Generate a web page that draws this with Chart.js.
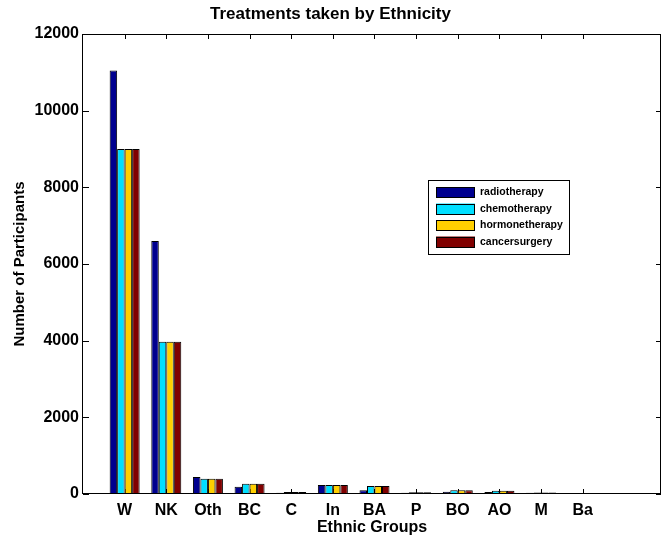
<!DOCTYPE html>
<html>
<head>
<meta charset="utf-8">
<script src="https://cdn.jsdelivr.net/npm/chart.js@4/dist/chart.umd.min.js"></script>
<style>
  html, body { margin: 0; padding: 0; background: #fff; }
  #wrap { width: 662px; height: 537px; }
</style>
</head>
<body>
<div id="wrap"><canvas id="c" width="662" height="537"></canvas></div>
<script>
// Treatments taken by Ethnicity - grouped bars, matlab style
var groups = ["W", "NK", "Oth", "BC", "C", "In", "BA", "P", "BO", "AO", "M", "Ba"];
var treatments = ["radiotherapy", "chemotherapy", "hormonetherapy", "cancersurgery"];
var radiotherapy = [11050, 6600, 443, 190, 35, 235, 95, 35, 60, 50, 35, 15];
var chemotherapy = [9000, 3970, 400, 270, 55, 235, 210, 45, 95, 85, 40, 15];
var hormonetherapy = [9000, 3970, 400, 270, 50, 235, 210, 45, 95, 85, 40, 15];
var cancersurgery = [9000, 3970, 400, 270, 55, 235, 210, 45, 95, 85, 40, 15];
var colors = ["#00008F", "#00DFFF", "#FFCF00", "#800000"];
var yTicks = [0, 2000, 4000, 6000, 8000, 10000, 12000];

var FONT = "'Liberation Sans', Arial, Helvetica, sans-serif";

var series = [radiotherapy, chemotherapy, hormonetherapy, cancersurgery];
var datasets = series.map(function (vals, k) {
    return {
        label: treatments[k],
        data: vals.map(function (v, i) { return { x: i + 1, y: v }; }),
        backgroundColor: colors[k],
        borderColor: "#000",
        borderWidth: 1,
        categoryPercentage: 0.72,
        barPercentage: 1
    };
});

// box + inward ticks on all four sides
var frame = {
    id: "frame",
    beforeDatasetsDraw: function (chart) {
        var ctx = chart.ctx, a = chart.chartArea;
        var x = chart.scales.x, y = chart.scales.y;
        ctx.save();
        ctx.strokeStyle = "#000";
        ctx.lineWidth = 1;
        ctx.beginPath();
        x.ticks.forEach(function (t) {
            var px = Math.round(x.getPixelForValue(t.value)) + 0.5;
            ctx.moveTo(px, a.top); ctx.lineTo(px, a.top + 5);
            ctx.moveTo(px, a.bottom); ctx.lineTo(px, a.bottom - 5);
        });
        y.ticks.forEach(function (t) {
            var py = Math.round(y.getPixelForValue(t.value)) + 0.5;
            ctx.moveTo(a.left, py); ctx.lineTo(a.left + 6, py);
            ctx.moveTo(a.right, py); ctx.lineTo(a.right - 5, py);
        });
        ctx.stroke();
        ctx.restore();
    },
    afterDatasetsDraw: function (chart) {
        var ctx = chart.ctx, a = chart.chartArea;
        ctx.save();
        ctx.strokeStyle = "#000";
        ctx.lineWidth = 1;
        ctx.strokeRect(Math.round(a.left) - 0.5, Math.round(a.top) + 0.5,
            Math.round(a.right - a.left), Math.round(a.bottom - a.top) - 1);
        ctx.restore();
    },
    afterDraw: function (chart) {
        // legend box inside the axes
        var ctx = chart.ctx;
        var bx = 428.5, by = 180.5, bw = 141, bh = 74;
        ctx.save();
        ctx.fillStyle = "#fff";
        ctx.fillRect(bx, by, bw, bh);
        ctx.strokeStyle = "#000";
        ctx.lineWidth = 1;
        ctx.strokeRect(bx, by, bw, bh);
        ctx.font = "bold 10.5px " + FONT;
        ctx.textBaseline = "middle";
        ctx.textAlign = "left";
        chart.data.datasets.forEach(function (ds, k) {
            var sy = 187 + k * 16.5;
            ctx.fillStyle = ds.backgroundColor;
            ctx.fillRect(436, sy, 39, 10.5);
            ctx.strokeStyle = "#000";
            ctx.strokeRect(436.5, Math.round(sy) + 0.5, 38, 10);
            ctx.fillStyle = "#000";
            ctx.fillText(ds.label, 480, sy + 5.5);
        });
        ctx.restore();
    }
};

new Chart(document.getElementById("c").getContext("2d"), {
    type: "bar",
    data: { datasets: datasets },
    options: {
        responsive: false,
        animation: false,
        layout: { padding: { left: 0, right: 1, top: 0, bottom: 0 } },
        plugins: {
            legend: { display: false },
            tooltip: { enabled: false },
            title: {
                display: true,
                text: "Treatments taken by Ethnicity",
                color: "#000",
                font: { family: FONT, size: 17, weight: "bold", lineHeight: 1.2 },
                padding: { top: 4, bottom: 9.6 }
            }
        },
        scales: {
            x: {
                type: "linear",
                min: 0,
                max: 13.88,
                offset: false,
                grid: { display: false, drawTicks: false },
                border: { display: false },
                afterBuildTicks: function (s) {
                    s.ticks = groups.map(function (g, i) { return { value: i + 1 }; });
                },
                afterFit: function (s) { s.height = 43; },
                ticks: {
                    autoSkip: false,
                    maxRotation: 0,
                    padding: 7,
                    color: "#000",
                    font: { family: FONT, size: 16, weight: "bold" },
                    callback: function (v) { return groups[v - 1] || ""; }
                },
                title: {
                    display: true,
                    text: "Ethnic Groups",
                    color: "#000",
                    font: { family: FONT, size: 16, weight: "bold", lineHeight: 1.2 },
                    padding: { top: 0, bottom: 0 }
                }
            },
            y: {
                min: 0,
                max: 12000,
                grid: { display: false, drawTicks: false },
                border: { display: false },
                afterBuildTicks: function (s) {
                    s.ticks = yTicks.map(function (v) { return { value: v }; });
                },
                afterFit: function (s) { s.width = 83; },
                ticks: {
                    padding: 4,
                    color: "#000",
                    font: { family: FONT, size: 16, weight: "bold" },
                    callback: function (v) { return String(v); }
                },
                title: {
                    display: true,
                    text: "Number of Participants",
                    color: "#000",
                    font: { family: FONT, size: 15, weight: "bold", lineHeight: 1.2 },
                    padding: { top: 11, bottom: 0 }
                }
            }
        }
    },
    plugins: [frame]
});
</script>
</body>
</html>
